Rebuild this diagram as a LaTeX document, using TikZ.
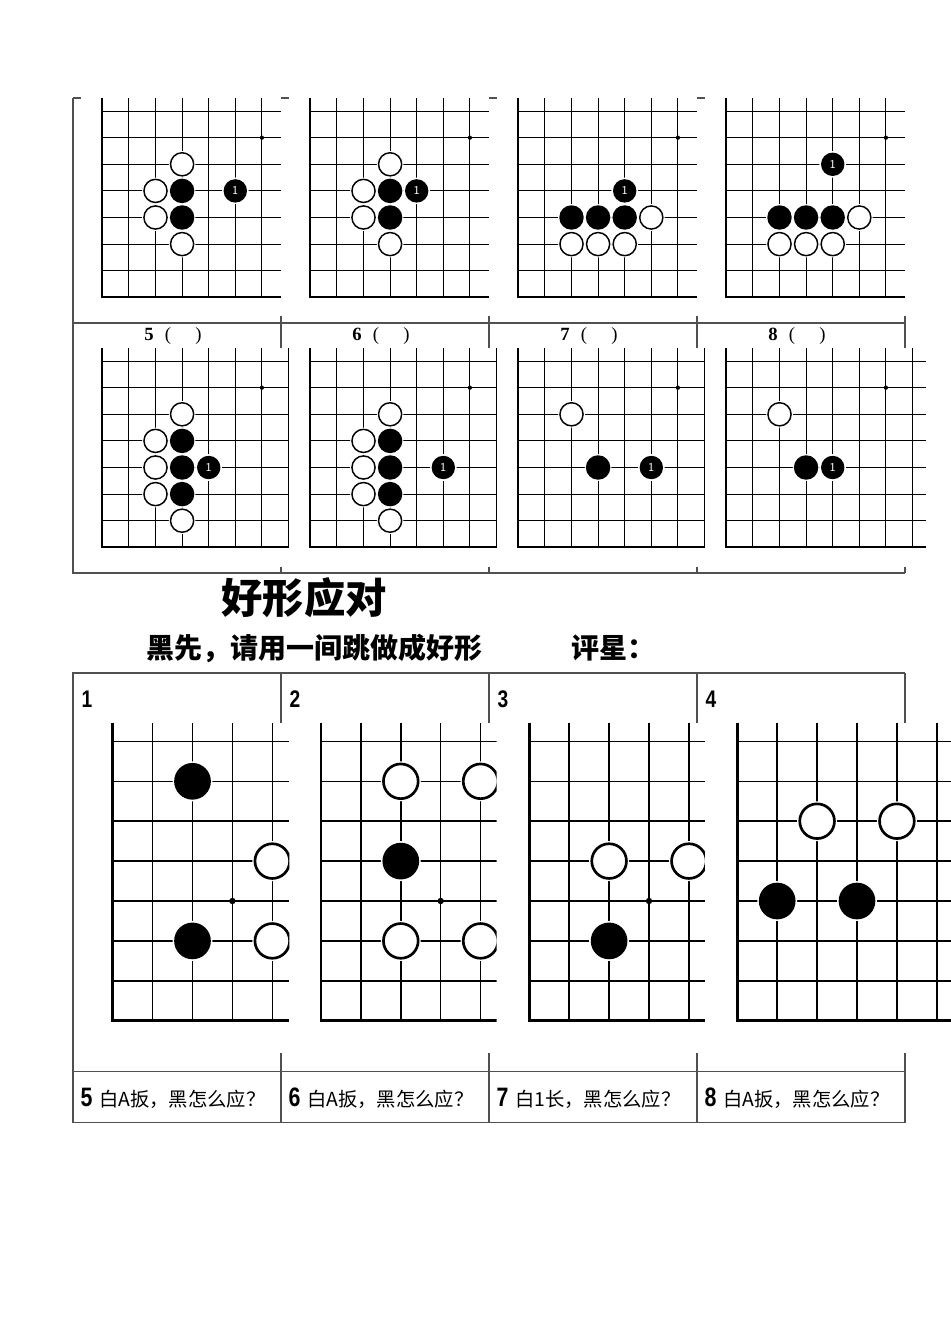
\documentclass[tikz,border=0pt]{standalone}
\usepackage{fontspec}
\newfontfamily\cjk{Noto Sans CJK SC}
\newfontfamily\numfont[FakeStretch=0.8]{Liberation Sans}
\newfontfamily\labfont{Liberation Serif}

\tikzset{every picture/.style={line width=0.75pt}}
\tikzset{
  table line/.style={draw={rgb,255:red,80;green,80;blue,80}, line width=0.8pt},
  grid line/.style={line width=0.8pt},
  edge line/.style={line width=1.7pt},
  white stone/.style={fill=white, draw=black, line width=1.1pt},
  black stone/.style={fill=black},
  halo/.style={fill=white},
  big board/.style={grid line/.style={line width=1.1pt}, edge line/.style={line width=2.1pt},
    white stone/.style={fill=white, draw=black, line width=2pt}},
  move label/.style={text=white, font=\sffamily\fontsize{9}{9}\selectfont, inner sep=0pt},
  row label/.style={font=\labfont\fontsize{14}{14}\selectfont, inner sep=0pt},
  cell num/.style={font=\numfont\bfseries\fontsize{18}{18}\selectfont, inner sep=0pt, anchor=west},
  question/.style={font=\cjk\fontsize{14.5}{15}\selectfont, inner sep=0pt, anchor=west},
  title text/.style={font=\cjk\bfseries\fontsize{31}{31}\selectfont, inner sep=0pt},
  task text/.style={font=\cjk\bfseries\fontsize{21}{21}\selectfont, inner sep=0pt, anchor=west},
}

% board grid: #1 = right cut, #2 = top cut (in grid units)
\newcommand{\goboard}[2]{%
  \clip (-0.2,-0.2) rectangle (#1,#2);
  \foreach \k in {1,...,7} {\draw[grid line] (\k,0) -- (\k,#2);}
  \foreach \j in {1,...,7} {\draw[grid line] (0,\j) -- (#1,\j);}
  \draw[edge line] (0,#2) -- (0,0) -- (#1,0);}
\newcommand{\wstone}[2]{\fill[halo] (#1,#2) circle[radius=0.5]; \draw[white stone] (#1,#2) circle[radius=0.435];}
\newcommand{\bstone}[2]{\fill[halo] (#1,#2) circle[radius=0.5]; \fill[black stone] (#1,#2) circle[radius=0.46];}
\newcommand{\nstone}[3]{\fill[halo] (#2,#3) circle[radius=0.5]; \fill[black stone] (#2,#3) circle[radius=0.44];
  \node[move label] (#1) at (#2,#3) {1};}
\newcommand{\hoshi}[2]{\fill (#1,#2) circle[radius=0.08];}
\newcommand{\blank}{\hspace{0.6em}(\hspace{1.3em})}

\begin{document}
\begin{tikzpicture}[x=0.75pt,y=0.75pt,yscale=-1,xscale=1]
\useasboundingbox (0,0) rectangle (950,1344);

%Straight Lines: upper table
\draw[table line] (73,98) -- (73,573) -- (905,573);
\draw[table line] (73,323) -- (905,323);
\foreach \x in {73,281,489,697} {\draw[table line] (\x,98) -- (\x+8,98);}
\foreach \x in {281,489,697,905} {\draw[table line] (\x,316) -- (\x,348); \draw[table line] (\x,567) -- (\x,573);}

%Straight Lines: lower table
\draw[table line] (905,673) -- (73,673) -- (73,1122.5) -- (905,1122.5);
\draw[table line] (73,1071.5) -- (905,1071.5);
\foreach \x in {281,489,697,905} {\draw[table line] (\x,673) -- (\x,722.7); \draw[table line] (\x,1053) -- (\x,1122.5);}

%Shape: upper boards, first row
\begin{scope}[shift={(102.3,297.3)}, xscale=26.6, yscale=-26.6]
  \goboard{6.72}{7.5} \hoshi{6}{6}
  \wstone{3}{5} \wstone{2}{4} \bstone{3}{4} \wstone{2}{3} \bstone{3}{3} \wstone{3}{2}
  \nstone{m1}{5}{4}
\end{scope}
\begin{scope}[shift={(310.3,297.3)}, xscale=26.6, yscale=-26.6]
  \goboard{6.72}{7.5} \hoshi{6}{6}
  \wstone{3}{5} \wstone{2}{4} \bstone{3}{4} \wstone{2}{3} \bstone{3}{3} \wstone{3}{2}
  \nstone{m2}{4}{4}
\end{scope}
\begin{scope}[shift={(518.3,297.3)}, xscale=26.6, yscale=-26.6]
  \goboard{6.72}{7.5} \hoshi{6}{6}
  \bstone{2}{3} \bstone{3}{3} \bstone{4}{3} \wstone{5}{3} \wstone{2}{2} \wstone{3}{2} \wstone{4}{2}
  \nstone{m3}{4}{4}
\end{scope}
\begin{scope}[shift={(726.3,297.3)}, xscale=26.6, yscale=-26.6]
  \goboard{6.72}{7.5} \hoshi{6}{6}
  \bstone{2}{3} \bstone{3}{3} \bstone{4}{3} \wstone{5}{3} \wstone{2}{2} \wstone{3}{2} \wstone{4}{2}
  \nstone{m4}{4}{5}
\end{scope}

%Shape: upper boards, second row
\begin{scope}[shift={(102.3,547.3)}, xscale=26.6, yscale=-26.6]
  \goboard{7.03}{7.5} \hoshi{6}{6}
  \wstone{3}{5} \wstone{2}{4} \bstone{3}{4} \wstone{2}{3} \bstone{3}{3}
  \wstone{2}{2} \bstone{3}{2} \wstone{3}{1}
  \nstone{m5}{4}{3}
\end{scope}
\begin{scope}[shift={(310.3,547.3)}, xscale=26.6, yscale=-26.6]
  \goboard{7.03}{7.5} \hoshi{6}{6}
  \wstone{3}{5} \wstone{2}{4} \bstone{3}{4} \wstone{2}{3} \bstone{3}{3}
  \wstone{2}{2} \bstone{3}{2} \wstone{3}{1}
  \nstone{m6}{5}{3}
\end{scope}
\begin{scope}[shift={(518.3,547.3)}, xscale=26.6, yscale=-26.6]
  \goboard{7.03}{7.5} \hoshi{6}{6}
  \wstone{2}{5} \bstone{3}{3}
  \nstone{m7}{5}{3}
\end{scope}
\begin{scope}[shift={(726.3,547.3)}, xscale=26.6, yscale=-26.6]
  \goboard{7.5}{7.5} \hoshi{6}{6}
  \wstone{2}{5} \bstone{3}{3}
  \nstone{m8}{4}{3}
\end{scope}

%Shape: lower boards
\begin{scope}[shift={(112.7,1020.7)}, xscale=39.9, yscale=-39.9, big board]
  \goboard{4.43}{7.47} \hoshi{3}{3}
  \bstone{2}{6} \bstone{2}{2} \wstone{4}{4} \wstone{4}{2}
\end{scope}
\begin{scope}[shift={(321,1020.7)}, xscale=39.9, yscale=-39.9, big board]
  \goboard{4.4}{7.47} \hoshi{3}{3}
  \wstone{2}{6} \wstone{4}{6} \bstone{2}{4} \wstone{2}{2} \wstone{4}{2}
\end{scope}
\begin{scope}[shift={(529.3,1020.7)}, xscale=39.9, yscale=-39.9, big board]
  \goboard{4.4}{7.47} \hoshi{3}{3}
  \wstone{2}{4} \wstone{4}{4} \bstone{2}{2}
\end{scope}
\begin{scope}[shift={(737.3,1020.7)}, xscale=39.9, yscale=-39.9, big board]
  \goboard{5.35}{7.47}
  \wstone{2}{5} \wstone{4}{5} \bstone{1}{3} \bstone{3}{3}
\end{scope}

% Text Node
\node[row label] (lab5) at (173,336) {\textbf{5}\blank};
\node[row label] (lab6) at (381,336) {\textbf{6}\blank};
\node[row label] (lab7) at (589,336) {\textbf{7}\blank};
\node[row label] (lab8) at (797,336) {\textbf{8}\blank};
% Text Node
\node[title text] (title) at (304,598) {好形应对};
\node[task text] (task) at (146,648) {黑先，请用一间跳做成好形};
\node[task text] (rating) at (571,648) {评星：};
% Text Node
\node[cell num] (n1) at (81,699.5) {1};
\node[cell num] (n2) at (289,699.5) {2};
\node[cell num] (n3) at (497,699.5) {3};
\node[cell num] (n4) at (705,699.5) {4};
% Text Node
\node[question] (q5) at (80,1098) {{\numfont\bfseries\fontsize{20}{20}\selectfont 5}\hspace{5pt}白A扳，黑怎么应？};
\node[question] (q6) at (288,1098) {{\numfont\bfseries\fontsize{20}{20}\selectfont 6}\hspace{5pt}白A扳，黑怎么应？};
\node[question] (q7) at (496,1098) {{\numfont\bfseries\fontsize{20}{20}\selectfont 7}\hspace{5pt}白1长，黑怎么应？};
\node[question] (q8) at (704,1098) {{\numfont\bfseries\fontsize{20}{20}\selectfont 8}\hspace{5pt}白A扳，黑怎么应？};

\end{tikzpicture}
\end{document}
